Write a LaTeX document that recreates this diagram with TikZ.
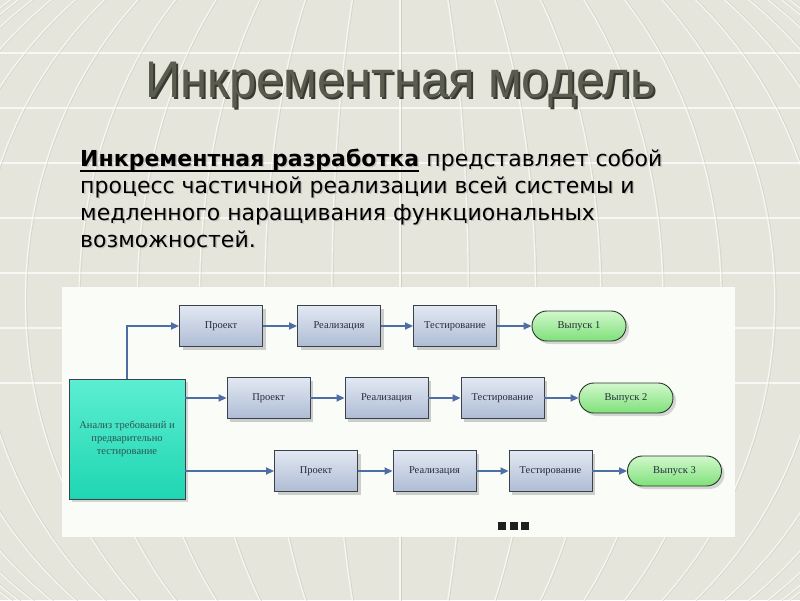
\documentclass[tikz,border=0pt]{standalone}
\usepackage{fontspec}
\setmainfont{DejaVu Sans}
\newfontfamily\titlefont[FakeStretch=0.95]{Liberation Sans}
\newfontfamily\bodyfont{DejaVu Sans}
\newfontfamily\boxfont{Liberation Serif}
\usetikzlibrary{arrows.meta,shadows}
\definecolor{bgcol}{HTML}{E6E5DC}
\definecolor{panelcol}{HTML}{FAFCF8}
\definecolor{gridgray}{HTML}{C4C3B8}
\definecolor{titlecol}{HTML}{5A5D4E}
\definecolor{titleshadow}{HTML}{1C1C16}
\definecolor{boxtop}{HTML}{E2E8F3}
\definecolor{boxbot}{HTML}{AEBCD4}
\definecolor{boxline}{HTML}{3C414C}
\definecolor{boxtext}{HTML}{262C3A}
\definecolor{reltop}{HTML}{D2F8CC}
\definecolor{relbot}{HTML}{7EE07A}
\definecolor{relline}{HTML}{263626}
\definecolor{anatop}{HTML}{5CEED2}
\definecolor{anabot}{HTML}{1FD6B2}
\definecolor{anatext}{HTML}{2C5650}
\definecolor{arrcol}{HTML}{4E6EA6}
\tikzset{
  pbox/.style={draw=boxline, line width=0.9pt, top color=boxtop, bottom color=boxbot,
    minimum width=83pt, minimum height=41pt, inner sep=0pt, text=boxtext,
    font=\boxfont\fontsize{10.5}{12}\selectfont,
    drop shadow={shadow xshift=3pt, shadow yshift=-3pt, fill=black, opacity=0.18}},
  relbox/.style={draw=relline, line width=0.9pt, top color=reltop, bottom color=relbot,
    minimum width=94pt, minimum height=30pt, rounded corners=14.9pt, inner sep=0pt, text=boxtext,
    font=\boxfont\fontsize{10.5}{12}\selectfont,
    drop shadow={shadow xshift=3pt, shadow yshift=-3pt, fill=black, opacity=0.15}},
  anabox/.style={draw=boxline, line width=0.9pt, top color=anatop, bottom color=anabot,
    minimum width=116pt, minimum height=120pt, inner sep=0pt, text=anatext, align=center,
    font=\boxfont\fontsize{10.5}{13}\selectfont,
    drop shadow={shadow xshift=3pt, shadow yshift=-3pt, fill=black, opacity=0.15}},
  arr/.style={draw=arrcol, line width=1.7pt, -{Triangle[length=8pt,width=7pt]}},
  bodytext/.style={anchor=base west, inner sep=0pt, font=\bodyfont\fontsize{22}{27}\selectfont},
  gridw/.style={draw=white, line width=1.1pt, opacity=0.7},
  gridg/.style={draw=gridgray, line width=0.5pt, opacity=0.6},
  dotsq/.style={fill=black!88, minimum size=8pt, inner sep=0pt},
}
\begin{document}
\begin{tikzpicture}[x=1pt,y=-1pt]
\useasboundingbox (0,0) rectangle (800,600);
\fill[bgcol] (0,0) rectangle (800,600);
\begin{scope}
\clip (0,0) rectangle (800,600);
\foreach \yy in {53,108,163,218,273,328,383}{
  \draw[gridw] (0,\yy) -- (800,\yy);
}
\foreach \th in {-84,-77,...,84}{
  \pgfmathsetmacro{\aa}{560*sin(\th)}
  \draw[gridg] plot[domain=-50:50, samples=40] ({401.5+\aa*cos(\x)}, {300+420*sin(\x)});
  \draw[gridw] plot[domain=-50:50, samples=40] ({400+\aa*cos(\x)}, {300+420*sin(\x)});
}
\end{scope}

% title
\node[anchor=base, inner sep=0pt, text=titleshadow, opacity=0.85, font=\titlefont\fontsize{51.5}{56}\selectfont] (titleS) at (403,99.5) {Инкрементная модель};
\node[anchor=base, inner sep=0pt, text=titlecol, font=\titlefont\fontsize{51.5}{56}\selectfont] (title) at (401,97) {Инкрементная модель};

% body text shadow
\begin{scope}[opacity=0.25]
\node[bodytext, text=black!60] (s1a) at (81.5,167.5) {\bfseries Инкрементная разработка};
\node[bodytext, text=black!60] (s1b) at (s1a.base east) {\ представляет собой};
\node[bodytext, text=black!60] (s2) at (81.5,194.5) {процесс частичной реализации всей системы и};
\node[bodytext, text=black!60] (s3) at (81.5,221.5) {медленного наращивания функциональных};
\node[bodytext, text=black!60] (s4) at (81.5,248.5) {возможностей.};
\end{scope}
\node[bodytext] (l1a) at (80,166) {\bfseries Инкрементная разработка};
\node[bodytext] (l1b) at (l1a.base east) {\ представляет собой};
\node[bodytext] (l2) at (80,193) {процесс частичной реализации всей системы и};
\node[bodytext] (l3) at (80,220) {медленного наращивания функциональных};
\node[bodytext] (l4) at (80,247) {возможностей.};
\draw[line width=1.8pt] ([yshift=-4.8pt]l1a.base west) -- ([yshift=-4.8pt]l1a.base east);

% panel
\fill[panelcol] (62,287) rectangle (735,537);

% nodes
\node[anabox] (A) at (127,439) {Анализ требований и\\предварительно\\тестирование};
\node[pbox] (P1) at (221,326) {Проект};
\node[pbox] (R1) at (339,326) {Реализация};
\node[pbox] (T1) at (455,326) {Тестирование};
\node[relbox] (V1) at (579,326) {Выпуск 1};
\node[pbox] (P2) at (268.5,398) {Проект};
\node[pbox] (R2) at (386.5,398) {Реализация};
\node[pbox] (T2) at (502.5,398) {Тестирование};
\node[relbox] (V2) at (626,398) {Выпуск 2};
\node[pbox] (P3) at (316,471) {Проект};
\node[pbox] (R3) at (434.5,471) {Реализация};
\node[pbox] (T3) at (550.5,471) {Тестирование};
\node[relbox] (V3) at (674.5,471) {Выпуск 3};

% connectors
\draw[arr] (A.north) |- (P1.west);
\draw[arr] (P2.west -| A.east) -- (P2.west);
\draw[arr] (P3.west -| A.east) -- (P3.west);
\draw[arr] (P1) -- (R1);
\draw[arr] (R1) -- (T1);
\draw[arr] (T1) -- (V1);
\draw[arr] (P2) -- (R2);
\draw[arr] (R2) -- (T2);
\draw[arr] (T2) -- (V2);
\draw[arr] (P3) -- (R3);
\draw[arr] (R3) -- (T3);
\draw[arr] (T3) -- (V3);

% dots
\node[dotsq] (d1) at (502,525.5) {};
\node[dotsq] (d2) at (513.5,525.5) {};
\node[dotsq] (d3) at (525,525.5) {};
\end{tikzpicture}
\end{document}
